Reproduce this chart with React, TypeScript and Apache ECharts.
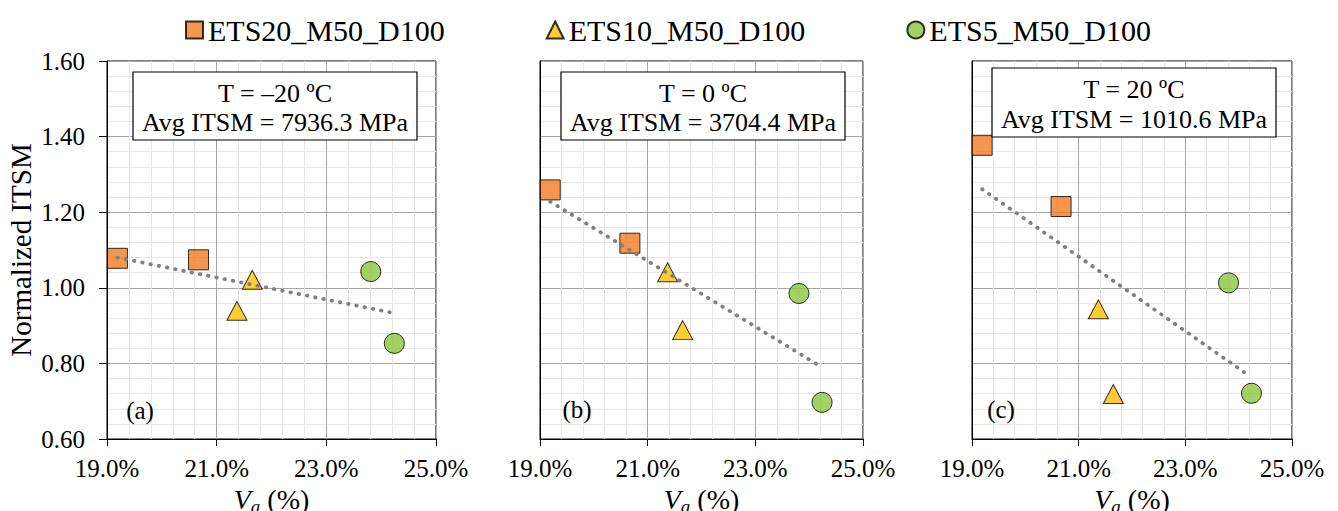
import React, { useEffect, useRef } from "react";
import * as echarts from "echarts";

// ---- data ----
const seriesNames = ["ETS20_M50_D100", "ETS10_M50_D100", "ETS5_M50_D100"];
const vaETS20 = [19.19, 20.67];
const vaETS10 = [21.37, 21.65];
const vaETS5 = [23.81, 24.24];

const panelLabels = ["(a)", "(b)", "(c)"];
const tempLabels = ["T = –20 ºC", "T = 0 ºC", "T = 20 ºC"];
const avgLabels = ["Avg ITSM = 7936.3 MPa", "Avg ITSM = 3704.4 MPa", "Avg ITSM = 1010.6 MPa"];

const ets20Values = [
  [1.078, 1.074],
  [1.259, 1.118],
  [1.377, 1.215],
];
const ets10Values = [
  [0.939, 1.021],
  [1.041, 0.888],
  [0.943, 0.719],
];
const ets5Values = [
  [1.043, 0.853],
  [0.985, 0.697],
  [1.013, 0.721],
];
const trendX = [19.19, 24.2];
const trendY = [
  [1.08, 0.934],
  [1.228, 0.793],
  [1.261, 0.767],
];

const xTicks = { min: 19, max: 25, interval: 2 };
const yTicks = { min: 0.6, max: 1.6, interval: 0.2 };

// ---- layout ----
const FONT = "Liberation Serif, serif";
const grids = [
  { left: 107, width: 329 },
  { left: 540, width: 323 },
  { left: 972, width: 320 },
];
const GRID_TOP = 61;
const GRID_H = 378;
const boxes = [
  { x: 133, y: 72, w: 284, h: 68, l1: 93, l2: 122 },
  { x: 561, y: 72, w: 284, h: 68, l1: 93, l2: 122 },
  { x: 992, y: 68, w: 284, h: 69, l1: 89, l2: 119 },
];
const labelPos = [
  { x: 140, y: 410 },
  { x: 577, y: 409 },
  { x: 1001, y: 409 },
];
const colors = ["#F37B22", "#FFC000", "#8CC540"];

const zip = (xs: number[], ys: number[]) => xs.map((x, i) => [x, ys[i]]);

export default function App() {
  const ref = useRef<HTMLDivElement>(null);
  useEffect(() => {
    if (!ref.current) return;
    const chart = echarts.init(ref.current, undefined, { renderer: "svg" });

    const xAxis: any[] = [];
    const yAxis: any[] = [];
    const series: any[] = [];
    const graphic: any[] = [];

    grids.forEach((g, i) => {
      xAxis.push({
        type: "value",
        gridIndex: i,
        min: xTicks.min,
        max: xTicks.max,
        interval: xTicks.interval,
        axisLine: { show: true, lineStyle: { color: "#000", width: 1 } },
        axisTick: { show: true, length: 7, inside: false, lineStyle: { color: "#000" } },
        axisLabel: {
          formatter: (v: number) => v.toFixed(1) + "%",
          fontFamily: FONT,
          fontSize: 25,
          color: "#000",
          margin: 17,
        },
        splitLine: { show: true, lineStyle: { color: "#A6A6A6", width: 1 } },
        minorTick: { show: false, splitNumber: 5 },
        minorSplitLine: { show: true, lineStyle: { color: "#E6E6E6", width: 1 } },
        name: "{i|V}{s|a} (%)",
        nameLocation: "middle",
        nameGap: 42,
        nameTextStyle: {
          fontFamily: FONT,
          fontSize: 28,
          color: "#000",
          rich: {
            i: { fontFamily: FONT, fontSize: 28, fontStyle: "italic", color: "#000" },
            s: { fontFamily: FONT, fontSize: 19, fontStyle: "italic", color: "#000", padding: [14, 0, 0, 0] },
          },
        },
      });
      yAxis.push({
        type: "value",
        gridIndex: i,
        min: yTicks.min,
        max: yTicks.max,
        interval: yTicks.interval,
        axisLine: { show: true, lineStyle: { color: "#000", width: 1 } },
        axisTick: { show: i === 0, length: 8, lineStyle: { color: "#000" } },
        axisLabel: {
          show: i === 0,
          formatter: (v: number) => v.toFixed(2),
          fontFamily: FONT,
          fontSize: 25,
          color: "#000",
          margin: 22,
        },
        splitLine: { show: true, lineStyle: { color: "#A6A6A6", width: 1 } },
        minorTick: { show: false, splitNumber: 5 },
        minorSplitLine: { show: true, lineStyle: { color: "#E6E6E6", width: 1 } },
        name: i === 0 ? "Normalized ITSM" : "",
        nameLocation: "middle",
        nameGap: 72,
        nameTextStyle: { fontFamily: FONT, fontSize: 29, color: "#000" },
      });

      const common = {
        type: "scatter",
        xAxisIndex: i,
        yAxisIndex: i,
        clip: false,
        z: 3,
      };
      series.push({
        ...common,
        name: seriesNames[0],
        symbol: "rect",
        symbolSize: 20,
        itemStyle: { color: colors[0], borderColor: "#000", borderWidth: 1 },
        data: zip(vaETS20, ets20Values[i]),
      });
      series.push({
        ...common,
        name: seriesNames[1],
        symbol: "triangle",
        symbolSize: [20, 19],
        itemStyle: { color: colors[1], borderColor: "#000", borderWidth: 1 },
        data: zip(vaETS10, ets10Values[i]),
      });
      series.push({
        ...common,
        name: seriesNames[2],
        symbol: "circle",
        symbolSize: 20,
        itemStyle: { color: colors[2], borderColor: "#000", borderWidth: 1 },
        data: zip(vaETS5, ets5Values[i]),
      });
      series.push({
        type: "line",
        name: "Trend " + panelLabels[i],
        xAxisIndex: i,
        yAxisIndex: i,
        symbol: "none",
        z: 5,
        silent: true,
        lineStyle: { color: "#808080", width: 3.8, type: [0.5, 7.9], cap: "round" },
        data: zip(trendX, trendY[i]),
      });

      const b = boxes[i];
      graphic.push({
        type: "rect",
        z: 10,
        shape: { x: b.x, y: b.y, width: b.w, height: b.h },
        style: { fill: "#fff", stroke: "#000", lineWidth: 1.2 },
      });
      graphic.push({
        type: "text",
        z: 11,
        style: {
          text: tempLabels[i],
          x: b.x + b.w / 2,
          y: b.l1,
          textAlign: "center",
          textVerticalAlign: "middle",
          fontFamily: FONT,
          fontSize: 26,
          fill: "#000",
        },
      });
      graphic.push({
        type: "text",
        z: 11,
        style: {
          text: avgLabels[i],
          x: b.x + b.w / 2,
          y: b.l2,
          textAlign: "center",
          textVerticalAlign: "middle",
          fontFamily: FONT,
          fontSize: 26,
          fill: "#000",
        },
      });
      graphic.push({
        type: "text",
        z: 11,
        style: {
          text: panelLabels[i],
          x: labelPos[i].x,
          y: labelPos[i].y,
          textAlign: "center",
          textVerticalAlign: "middle",
          fontFamily: FONT,
          fontSize: 25,
          fill: "#000",
        },
      });
    });

    chart.setOption({
      animation: false,
      backgroundColor: "#fff",
      grid: grids.map((g) => ({
        left: g.left,
        width: g.width,
        top: GRID_TOP,
        height: GRID_H,
        show: true,
        borderColor: "#000",
        borderWidth: 1,
        backgroundColor: "transparent",
        containLabel: false,
        outerBoundsMode: "none",
      })),
      legend: {
        left: 180,
        top: 10,
        itemWidth: 17,
        itemHeight: 17,
        itemGap: 101,
        selectedMode: false,
        textStyle: { fontFamily: FONT, fontSize: 30, color: "#000" },
        data: [
          { name: seriesNames[0], icon: "rect" },
          { name: seriesNames[1], icon: "triangle" },
          { name: seriesNames[2], icon: "circle" },
        ],
      },
      xAxis,
      yAxis,
      series,
      graphic,
    });
    return () => chart.dispose();
  }, []);
  return (
    <div
      ref={ref}
      style={{ position: "absolute", left: 0, top: 0, width: 1338, height: 511 }}
    />
  );
}
